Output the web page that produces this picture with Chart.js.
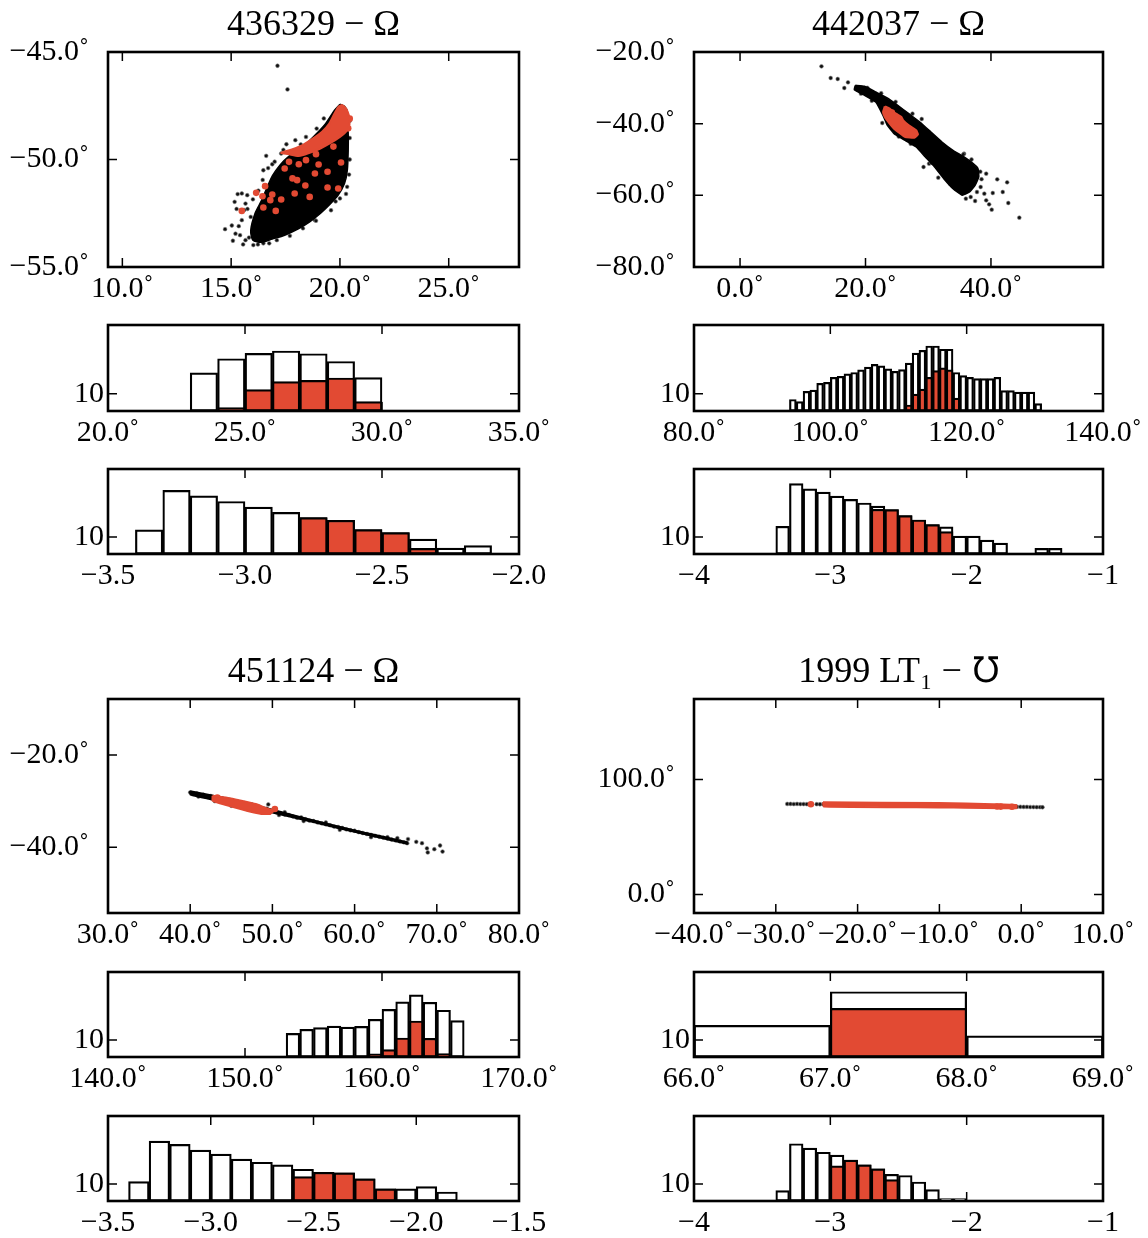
<!DOCTYPE html>
<html><head><meta charset="utf-8">
<script src="https://cdn.jsdelivr.net/npm/chart.js@4.4.1/dist/chart.umd.min.js"></script>
<style>
html,body{margin:0;padding:0;background:#fff;}
#wrap{position:relative;width:1148px;height:1238px;overflow:hidden;background:#fff;}
#wrap canvas{position:absolute;left:0;top:0;}
</style></head><body><div id="wrap"></div>
<script>
// ---------------- DATA ----------------
const titles = ['436329 − Ω', '442037 − Ω', '451124 − Ω', '1999 LT₁ − ℧'];

// scatter axis ticks
const s1XTicks = [10, 15, 20, 25], s1XLabels = ['10.0˚', '15.0˚', '20.0˚', '25.0˚'];
const s1YTicks = [-55, -50, -45], s1YLabels = ['−55.0˚', '−50.0˚', '−45.0˚'];
const s2XTicks = [0, 20, 40], s2XLabels = ['0.0˚', '20.0˚', '40.0˚'];
const s2YTicks = [-80, -60, -40, -20], s2YLabels = ['−80.0˚', '−60.0˚', '−40.0˚', '−20.0˚'];
const s3XTicks = [30, 40, 50, 60, 70, 80], s3XLabels = ['30.0˚', '40.0˚', '50.0˚', '60.0˚', '70.0˚', '80.0˚'];
const s3YTicks = [-40, -20], s3YLabels = ['−40.0˚', '−20.0˚'];
const s4XTicks = [-40, -30, -20, -10, 0, 10], s4XLabels = ['−40.0˚', '−30.0˚', '−20.0˚', '−10.0˚', '0.0˚', '10.0˚'];
const s4YTicks = [0, 100], s4YLabels = ['0.0˚', '100.0˚'];

// scatter axis limits
const s1XRange = [9.34, 28.23], s1YRange = [-55, -45];
const s2XRange = [-7.34, 57.86], s2YRange = [-80, -20];
const s3XRange = [30, 80], s3YRange = [-54.2, -7.9];
const s4XRange = [-40, 10], s4YRange = [-16, 170];

// scatter 1 (436329): dense cloud outline, sparse black points, red dense ridge, red points
const s1Core = [[20.00,-47.43],[20.21,-47.52],[20.34,-47.78],[20.38,-48.79],[20.38,-49.57],[20.34,-50.50],[20.21,-51.12],[19.92,-51.66],[19.51,-52.12],[19.10,-52.51],[18.61,-52.90],[18.11,-53.21],[17.46,-53.52],[16.89,-53.70],[16.40,-53.85],[16.00,-53.75],[15.90,-53.30],[16.10,-52.50],[16.40,-51.90],[16.65,-51.30],[16.90,-50.75],[17.25,-50.25],[17.65,-49.85],[18.11,-49.57],[18.77,-48.95],[19.34,-48.33],[19.75,-47.71],[20.00,-47.43]];
const s1Black = [[17.13,-45.64],[17.59,-46.74],[14.72,-53.24],[15.08,-53.78],[15.03,-53.07],[15.16,-51.97],[15.30,-51.61],[15.49,-51.58],[15.74,-51.66],[15.66,-52.05],[15.90,-52.67],[15.49,-52.82],[15.41,-53.52],[15.66,-53.75],[15.82,-53.63],[16.02,-53.98],[16.23,-53.95],[16.48,-53.90],[15.75,-52.30],[16.00,-51.85],[16.25,-51.45],[16.45,-50.95],[16.48,-50.50],[16.61,-49.83],[16.89,-50.22],[17.30,-49.72],[17.54,-49.29],[17.95,-49.10],[18.44,-48.95],[18.93,-48.56],[19.26,-48.09],[18.85,-52.82],[19.59,-52.36],[20.00,-51.81],[20.33,-51.27],[15.25,-52.30],[15.60,-52.35],[15.35,-53.10],[15.20,-53.45],[15.55,-53.95],[16.75,-53.90],[17.10,-53.75],[17.70,-53.55],[18.30,-53.20],[18.90,-52.85],[19.80,-51.95],[20.45,-48.20],[20.45,-49.00],[20.45,-50.00],[20.42,-50.70],[17.00,-50.10],[17.40,-49.55],[18.20,-49.30],[16.70,-50.40],[20.28,-51.60]];
const s1RedCore = [[19.92,-47.55],[20.11,-47.47],[20.28,-47.63],[20.41,-47.94],[20.44,-48.36],[20.28,-48.71],[20.00,-48.95],[19.59,-49.22],[19.10,-49.49],[18.61,-49.69],[18.11,-49.84],[17.62,-49.75],[17.30,-49.69],[17.79,-49.53],[18.28,-49.33],[18.77,-49.02],[19.18,-48.71],[19.51,-48.33],[19.75,-47.86],[19.92,-47.55]];
const s1Red = [[18.11,-50.22],[18.44,-50.03],[19.02,-50.23],[19.43,-50.57],[20.05,-50.14],[17.66,-50.11],[17.82,-50.88],[18.03,-50.96],[18.41,-51.21],[16.56,-51.24],[16.15,-51.55],[16.44,-51.71],[16.89,-51.63],[17.30,-51.86],[17.92,-51.58],[16.48,-52.23],[17.05,-52.39],[15.49,-52.39],[19.43,-51.30],[19.92,-51.35],[18.85,-50.65],[17.46,-50.42],[16.80,-51.89],[18.61,-51.74],[20.45,-48.10],[20.38,-48.55],[19.70,-49.40],[18.90,-49.75]];

// scatter 2 (442037)
const s2Core = [[18.38,-29.30],[19.85,-29.58],[21.62,-31.16],[23.38,-32.74],[25.14,-34.88],[26.90,-37.21],[28.66,-39.53],[30.43,-42.33],[32.19,-45.12],[33.95,-47.44],[35.71,-49.30],[37.18,-51.16],[37.94,-52.56],[38.06,-54.88],[37.47,-57.21],[36.59,-59.07],[35.42,-60.00],[33.95,-58.14],[32.48,-55.35],[31.01,-52.09],[29.54,-49.30],[28.08,-46.51],[26.31,-44.65],[24.55,-42.79],[23.49,-40.47],[22.79,-37.67],[21.62,-33.95],[19.85,-32.09],[18.21,-30.51],[18.38,-29.30]];
const s2Black = [[12.98,-24.00],[14.45,-27.26],[15.57,-27.53],[17.21,-28.47],[16.62,-30.05],[19.27,-31.63],[22.67,-39.81],[27.49,-37.21],[28.96,-38.70],[35.71,-48.37],[39.24,-53.95],[41.00,-55.53],[42.58,-56.37],[41.88,-59.07],[40.29,-59.35],[42.76,-62.14],[44.52,-66.23],[40.12,-64.00],[39.24,-61.40],[38.94,-59.53],[37.47,-61.58],[36.00,-60.93],[31.60,-55.07],[38.36,-57.67],[35.00,-53.02],[35.60,-48.56],[29.25,-52.09],[30.13,-51.16],[36.77,-60.47],[37.77,-59.07],[39.71,-62.51],[38.50,-55.50],[38.30,-53.40],[36.90,-50.00],[33.50,-56.80],[30.50,-50.90],[27.20,-45.60],[25.30,-43.60],[21.00,-33.60],[20.30,-30.00],[22.50,-31.50],[24.80,-33.90]];
const s2RedCore = [[23.08,-35.16],[23.85,-35.81],[24.85,-37.21],[25.73,-38.14],[26.02,-39.07],[26.90,-40.47],[28.08,-41.86],[28.37,-42.98],[27.78,-43.91],[26.31,-43.72],[25.43,-42.60],[24.55,-41.40],[23.85,-40.00],[23.08,-38.14],[22.79,-36.74],[23.08,-35.16]];
const s2Red = [[24.20,-36.90],[27.60,-42.60]];

// scatter 3 (451124)
const s3Core = [[40.0,-27.8],[45.0,-29.6],[50.0,-31.8],[55.0,-34.15],[60.0,-36.3],[66.4,-38.85],[66.4,-39.25],[60.0,-36.7],[55.0,-34.55],[50.0,-32.5],[45.0,-30.6],[40.0,-28.6],[40.0,-27.8]];
const s3Black = [[40.0,-28.1],[40.3,-28.5],[40.8,-28.3],[41.2,-28.8],[41.6,-28.6],[42.1,-29.1],[42.5,-28.9],[43.0,-29.3],[43.4,-29.6],[43.9,-29.4],[44.3,-29.9],[44.8,-29.7],[45.2,-30.2],[45.7,-30.0],[46.1,-30.6],[46.6,-30.4],[47.0,-30.9],[47.5,-30.7],[47.9,-31.3],[48.4,-31.2],[48.8,-31.9],[49.3,-31.6],[49.5,-30.7],[50.5,-32.4],[51.0,-32.6],[51.5,-32.9],[52.0,-33.0],[52.5,-33.3],[53.0,-33.6],[53.5,-33.5],[54.0,-33.9],[54.5,-34.2],[55.0,-34.3],[55.5,-34.6],[56.0,-34.8],[56.5,-35.0],[57.0,-35.2],[57.5,-35.5],[58.0,-35.6],[58.5,-35.8],[59.0,-36.1],[59.5,-36.3],[60.0,-36.4],[60.5,-36.7],[61.0,-36.9],[61.5,-37.1],[62.0,-37.3],[62.5,-37.5],[63.0,-37.7],[63.5,-37.9],[64.0,-38.1],[64.5,-38.3],[65.0,-38.5],[65.5,-38.7],[66.0,-38.9],[66.4,-39.1],[41.0,-29.0],[43.0,-30.0],[45.0,-31.0],[47.0,-31.8],[48.5,-32.2],[51.5,-32.4],[50.8,-33.0],[53.8,-34.3],[56.5,-34.6],[58.2,-36.2],[62.0,-37.8],[64.0,-37.8],[65.2,-38.0],[66.5,-38.2],[67.5,-38.8],[68.2,-39.1],[68.8,-40.2],[68.9,-41.1],[69.7,-40.4],[70.4,-39.6],[70.7,-40.9]];
const s3RedCore = [[42.72,-28.81],[44.47,-29.24],[46.23,-29.89],[47.98,-30.61],[49.30,-31.55],[50.18,-32.06],[49.74,-32.78],[48.64,-32.78],[47.11,-32.20],[45.35,-31.34],[43.60,-30.47],[42.72,-29.89],[42.72,-28.81]];
const s3Red = [[50.3,-31.7],[43.3,-29.2]];

// scatter 4 (1999 LT1)
const s4Core = [];
const s4Black = [[-28.6,78.8],[-28.2,78.8],[-27.8,78.7],[-27.4,78.8],[-27.0,78.7],[-26.6,78.7],[-26.2,78.6],[-25.8,78.6],[-25.0,78.6],[-24.6,78.5],[-24.2,78.5],[-10.6,77.6],[-3.0,76.8],[-2.2,76.5],[-1.4,76.4],[-0.9,76.4],[-0.5,76.3],[-0.1,76.3],[0.3,76.2],[0.7,76.2],[1.1,76.1],[1.5,76.1],[1.9,76.0],[2.3,76.0],[2.6,75.9]];
const s4RedCore = [[-24.23,80.3],[-10.15,79.5],[-3.39,78.6],[-0.59,77.9],[-0.59,75.0],[-10.15,75.8],[-24.14,76.6],[-24.23,80.3]];
const s4Red = [[-25.71,78.55],[-2.94,76.6],[-1.13,76.4],[-2.5,76.5]];

// histograms: bin left edges, all counts, selected (red) counts
const histYTicks = [10], histYLabels = ['10'], histYRange = [0, 50];

const h1aBins = [23, 24, 25, 26, 27, 28, 29];
const h1aAll = [22.2, 30.4, 33.5, 34.9, 33.3, 28.8, 19.4];
const h1aSel = [0, 2.0, 12.4, 17.1, 17.8, 19.2, 5.5];
const h1aTicks = [20, 25, 30, 35], h1aLabels = ['20.0˚', '25.0˚', '30.0˚', '35.0˚'];

const h1bBins = [-3.4, -3.3, -3.2, -3.1, -3.0, -2.9, -2.8, -2.7, -2.6, -2.5, -2.4, -2.3, -2.2];
const h1bAll = [14.2, 37.4, 34.2, 30.9, 27.6, 24.5, 21.4, 19.8, 14.4, 12.6, 8.8, 3.5, 4.9];
const h1bSel = [0, 0, 0, 0, 0, 0, 21.4, 19.8, 14.4, 12.6, 3.3, 0, 0];
const h1bTicks = [-3.5, -3.0, -2.5, -2.0], h1bLabels = ['−3.5', '−3.0', '−2.5', '−2.0'];

const h2aBins = [94,95,96,97,98,99,100,101,102,103,104,105,106,107,108,109,110,111,112,113,114,115,116,117,118,119,120,121,122,123,124,125,126,127,128,129,130];
const h2aAll = [6.7,5.5,11.4,12.2,16.1,16.7,19.6,20.2,21.6,22.4,23.9,25.5,27.1,26.3,24.5,23.1,24.1,27.8,33.7,35.3,37.8,37.8,35.9,35.9,22.4,20.6,19.6,18.8,18.8,18.8,19.6,11.8,11.8,11.0,11.0,11.0,4.3];
const h2aSel = [0,0,0,0,0,0,0,0,0,0,0,0,0,0,0,0,0,3.5,9.8,12.7,19.6,23.5,25.1,23.9,7.5,0,0,0,0,0,0,0,0,0,0,0,0];
const h2aTicks = [80, 100, 120, 140], h2aLabels = ['80.0˚', '100.0˚', '120.0˚', '140.0˚'];

const h2bBins = [-3.4,-3.3,-3.2,-3.1,-3.0,-2.9,-2.8,-2.7,-2.6,-2.5,-2.4,-2.3,-2.2,-2.1,-2.0,-1.9,-1.8,-1.7,-1.6,-1.5,-1.4];
const h2bAll = [16.3,41.4,38.3,36.4,34.0,32.1,30.0,28.2,26.1,22.6,20.0,17.3,16.0,10.5,10.5,8.2,6.4,0,0,3.3,3.3];
const h2bSel = [0,0,0,0,0,0,0,26.3,26.1,22.6,20.0,17.3,13.2,0,0,0,0,0,0,0,0];
const h2bTicks = [-4, -3, -2, -1], h2bLabels = ['−4', '−3', '−2', '−1'];

const h3aBins = [153,154,155,156,157,158,159,160,161,162,163,164,165];
const h3aAll = [13.9,16.3,17.3,18.2,17.6,18.0,22.2,28.0,32.4,36.5,32.2,27.5,21.4];
const h3aSel = [0,0,0,0,0,0,1.8,4.3,11.2,21.2,11.0,2.0,0];
const h3aTicks = [140, 150, 160, 170], h3aLabels = ['140.0˚', '150.0˚', '160.0˚', '170.0˚'];

const h3bBins = [-3.4,-3.3,-3.2,-3.1,-3.0,-2.9,-2.8,-2.7,-2.6,-2.5,-2.4,-2.3,-2.2,-2.1,-2.0,-1.9];
const h3bAll = [11.4,35.2,33.3,29.9,27.6,24.6,22.8,21.3,18.7,16.9,16.5,13.0,7.1,7.1,8.5,5.3];
const h3bSel = [0,0,0,0,0,0,0,0,14.4,16.9,16.5,13.0,7.1,0,0,0];
const h3bTicks = [-3.5, -3.0, -2.5, -2.0, -1.5], h3bLabels = ['−3.5', '−3.0', '−2.5', '−2.0', '−1.5'];

const h4aBins = [66, 67, 68];
const h4aAll = [18.6, 38.4, 12.4];
const h4aSel = [0, 28.6, 0];
const h4aTicks = [66, 67, 68, 69], h4aLabels = ['66.0˚', '67.0˚', '68.0˚', '69.0˚'];

const h4bBins = [-3.4,-3.3,-3.2,-3.1,-3.0,-2.9,-2.8,-2.7,-2.6,-2.5,-2.4,-2.3,-2.2,-2.1];
const h4bAll = [6.1,33.7,31.1,28.7,27.0,24.0,21.3,18.9,15.7,15.0,11.2,6.7,1.4,1.4];
const h4bSel = [0,0,0,0,20.7,24.0,21.3,18.9,12.6,0,0,0,0,0];
const h4bTicks = [-4, -3, -2, -1], h4bLabels = ['−4', '−3', '−2', '−1'];

// ---------------- LAYOUT / STYLE ----------------
const W = 1148, H = 1238;
const FONT = '"Liberation Serif", "Times New Roman", Times, serif';
const RED = '#E24A33';
const TICK_FONT = 30, TITLE_FONT = 36;
const COLS = [[108, 519], [694, 1103]];
const ROWS = [
  { s: [52, 267], h1: [325, 411], h2: [469, 554] },
  { s: [699, 913], h1: [972, 1057], h2: [1116, 1201] }
];
const YW = 100, XH = 30, TICKLEN = 9;
const wrap = document.getElementById('wrap');

function newCtx() {
  const c = document.createElement('canvas');
  c.width = W; c.height = H;
  c.style.width = W + 'px'; c.style.height = H + 'px';
  wrap.appendChild(c);
  return c.getContext('2d');
}

const framePlugin = {
  id: 'frame',
  afterDatasetsDraw(chart) {
    const { ctx, chartArea: a } = chart;
    const xs = chart.scales.x, ys = chart.scales.y;
    ctx.save();
    ctx.strokeStyle = '#000';
    ctx.lineWidth = 1.5;
    ctx.beginPath();
    xs.ticks.forEach(t => {
      const p = xs.getPixelForValue(t.value);
      if (p > a.left + 2 && p < a.right - 2) {
        ctx.moveTo(p, a.bottom); ctx.lineTo(p, a.bottom - TICKLEN);
        ctx.moveTo(p, a.top); ctx.lineTo(p, a.top + TICKLEN);
      }
    });
    ys.ticks.forEach(t => {
      const p = ys.getPixelForValue(t.value);
      if (p > a.top + 2 && p < a.bottom - 2) {
        ctx.moveTo(a.left, p); ctx.lineTo(a.left + TICKLEN, p);
        ctx.moveTo(a.right, p); ctx.lineTo(a.right - TICKLEN, p);
      }
    });
    ctx.stroke();
    ctx.lineWidth = 2.6;
    ctx.strokeRect(a.left, a.top, a.right - a.left, a.bottom - a.top);
    ctx.restore();
  }
};

function axis(range, ticks, labels, isX, pad) {
  return {
    type: 'linear', min: range[0], max: range[1], offset: false,
    grid: { display: false, drawTicks: false }, border: { display: false },
    ticks: {
      color: '#000', font: { family: FONT, size: TICK_FONT }, padding: pad,
      autoSkip: false, maxRotation: 0, minRotation: 0,
      callback: (v, i) => labels[i]
    },
    afterBuildTicks: s => { s.ticks = ticks.map(v => ({ value: v })); },
    afterFit: s => { if (isX) s.height = XH; else s.width = YW; }
  };
}

function baseOptions(col, rowBox, title, xAxis, yAxis) {
  const titleH = title ? TITLE_FONT * 1.2 + 5 : 0;
  return {
    responsive: false, animation: false, devicePixelRatio: 1, events: [],
    layout: {
      autoPadding: false,
      padding: { left: col[0] - YW, right: W - col[1], top: rowBox[0] - titleH, bottom: H - rowBox[1] - XH }
    },
    plugins: {
      legend: { display: false }, tooltip: { enabled: false },
      title: title ? {
        display: true, text: title, color: '#000', fullSize: false,
        font: { family: FONT, size: TITLE_FONT, weight: 'normal' },
        padding: { top: 0, bottom: 5 }
      } : { display: false }
    },
    scales: { x: xAxis, y: yAxis }
  };
}

const pts = arr => arr.map(p => ({ x: p[0], y: p[1] }));

function scatterPanel(col, rowBox, title, xr, yr, xt, xl, yt, yl, core, black, redCore, red, tension) {
  new Chart(newCtx(), {
    type: 'scatter',
    data: {
      datasets: [
        { data: pts(redCore), showLine: true, fill: 'shape', tension: tension, borderColor: RED, backgroundColor: RED, borderWidth: 2, pointRadius: 0, order: 1 },
        { data: pts(red), pointRadius: 3.3, backgroundColor: RED, borderWidth: 0, order: 2 },
        { data: pts(core), showLine: true, fill: 'shape', tension: tension, borderColor: '#000', backgroundColor: '#000', borderWidth: 1.5, pointRadius: 0, order: 3 },
        { data: pts(black), pointRadius: 1.9, backgroundColor: '#111', borderColor: '#888', borderWidth: 0.6, order: 4 }
      ]
    },
    options: baseOptions(col, rowBox, title, axis(xr, xt, xl, true, 4), axis(yr, yt, yl, false, 19)),
    plugins: [framePlugin]
  });
}

function histPanel(col, rowBox, bins, all, sel, xt, xl) {
  const w = Math.abs(bins[1] - bins[0]);
  const mk = arr => bins.map((b, i) => ({ x: b + w / 2, y: arr[i] })).filter(d => d.y > 0);
  const common = { borderColor: '#000', borderWidth: 2.2, borderSkipped: false, grouped: false, barPercentage: 1, categoryPercentage: 1 };
  new Chart(newCtx(), {
    type: 'bar',
    data: {
      datasets: [
        Object.assign({ data: mk(sel), backgroundColor: RED, order: 1 }, common),
        Object.assign({ data: mk(all), backgroundColor: '#fff', order: 2 }, common)
      ]
    },
    options: baseOptions(col, rowBox, null, axis([xt[0], xt[xt.length - 1]], xt, xl, true, 4), axis(histYRange, histYTicks, histYLabels, false, 4)),
    plugins: [framePlugin]
  });
}

// Panel 1: 436329
scatterPanel(COLS[0], ROWS[0].s, titles[0], s1XRange, s1YRange, s1XTicks, s1XLabels, s1YTicks, s1YLabels, s1Core, s1Black, s1RedCore, s1Red, 0.25);
histPanel(COLS[0], ROWS[0].h1, h1aBins, h1aAll, h1aSel, h1aTicks, h1aLabels);
histPanel(COLS[0], ROWS[0].h2, h1bBins, h1bAll, h1bSel, h1bTicks, h1bLabels);
// Panel 2: 442037
scatterPanel(COLS[1], ROWS[0].s, titles[1], s2XRange, s2YRange, s2XTicks, s2XLabels, s2YTicks, s2YLabels, s2Core, s2Black, s2RedCore, s2Red, 0.12);
histPanel(COLS[1], ROWS[0].h1, h2aBins, h2aAll, h2aSel, h2aTicks, h2aLabels);
histPanel(COLS[1], ROWS[0].h2, h2bBins, h2bAll, h2bSel, h2bTicks, h2bLabels);
// Panel 3: 451124
scatterPanel(COLS[0], ROWS[1].s, titles[2], s3XRange, s3YRange, s3XTicks, s3XLabels, s3YTicks, s3YLabels, s3Core, s3Black, s3RedCore, s3Red, 0.1);
histPanel(COLS[0], ROWS[1].h1, h3aBins, h3aAll, h3aSel, h3aTicks, h3aLabels);
histPanel(COLS[0], ROWS[1].h2, h3bBins, h3bAll, h3bSel, h3bTicks, h3bLabels);
// Panel 4: 1999 LT1
scatterPanel(COLS[1], ROWS[1].s, titles[3], s4XRange, s4YRange, s4XTicks, s4XLabels, s4YTicks, s4YLabels, s4Core, s4Black, s4RedCore, s4Red, 0.1);
histPanel(COLS[1], ROWS[1].h1, h4aBins, h4aAll, h4aSel, h4aTicks, h4aLabels);
histPanel(COLS[1], ROWS[1].h2, h4bBins, h4bAll, h4bSel, h4bTicks, h4bLabels);
</script></body></html>
